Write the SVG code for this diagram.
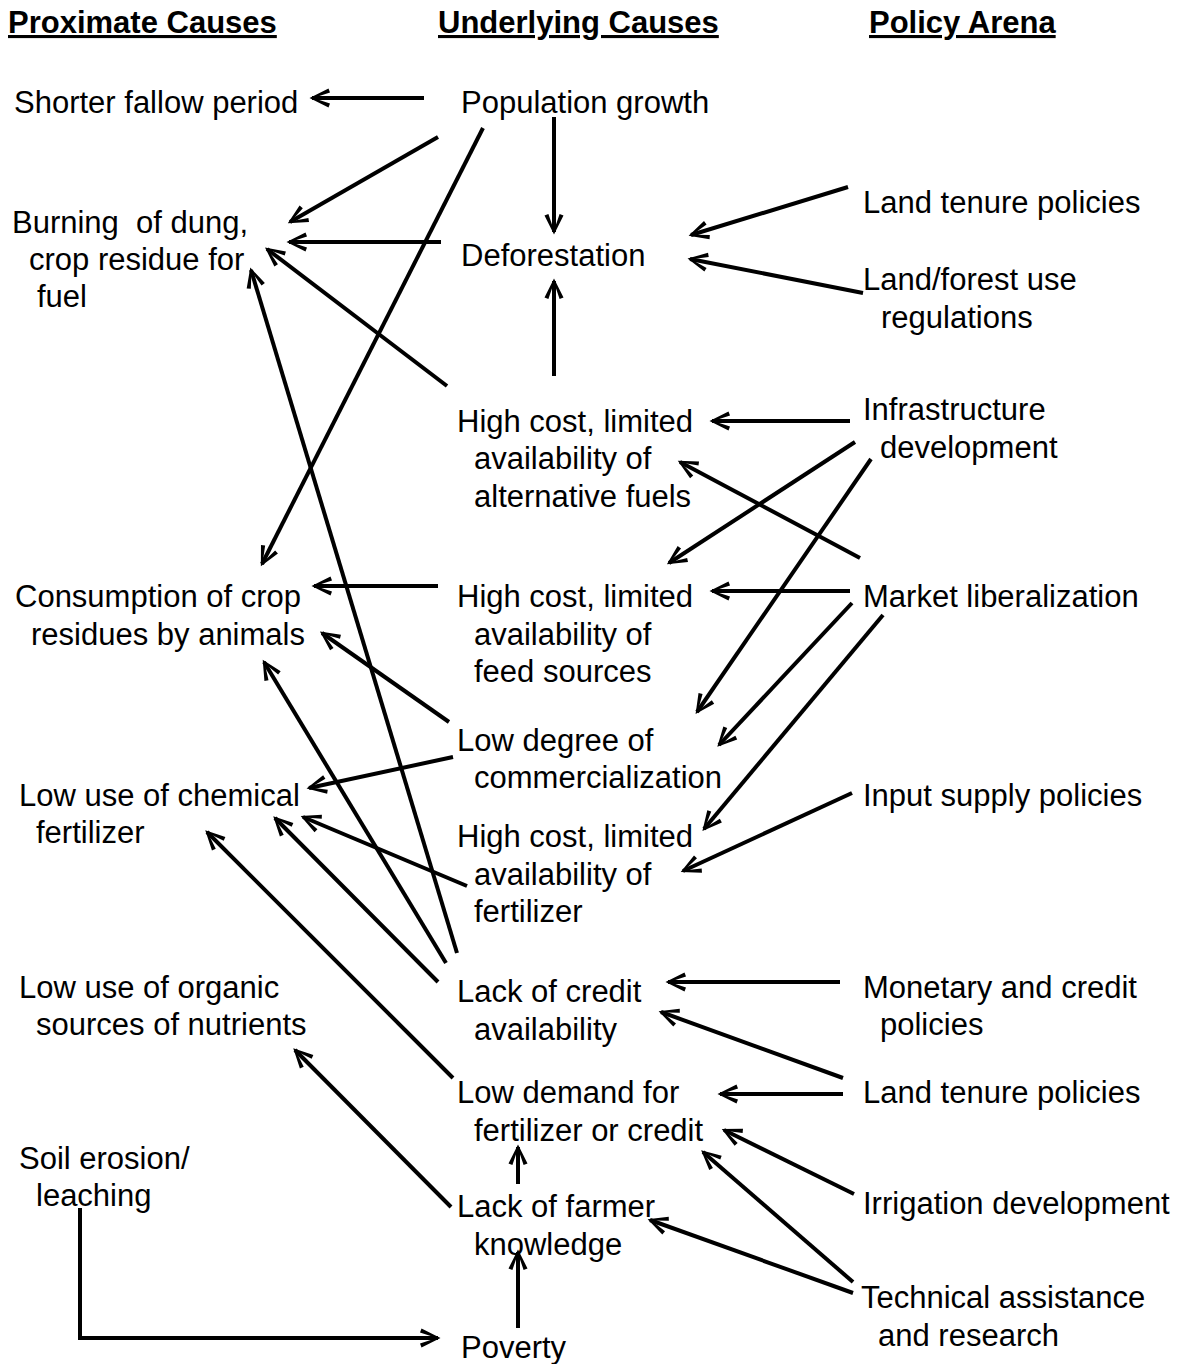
<svg xmlns="http://www.w3.org/2000/svg" width="1179" height="1364" viewBox="0 0 1179 1364">
<style>
text{font-family:"Liberation Sans",Arial,Helvetica,sans-serif;font-size:31px;fill:#000}
.title{font-weight:bold;text-decoration:underline}
.c line,.c polyline{fill:none;stroke:#000;stroke-width:4;marker-end:url(#ah)}
</style>
<defs>
<marker id="ah" markerUnits="userSpaceOnUse" viewBox="-22 -12 26 24" markerWidth="26" markerHeight="24" refX="0" refY="0" orient="auto" overflow="visible">
<path d="M2.5,0 L-16.5,-9.5 L-18,-5.6 L-5,-1.2 L-5,1.2 L-18,5.6 L-16.5,9.5 Z" fill="#000" stroke="none"/>
</marker>
</defs>
<rect width="1179" height="1364" fill="#fff"/>
<g id="titles">
<text class="title" x="8" y="33">Proximate Causes</text>
<text class="title" x="438" y="33">Underlying Causes</text>
<text class="title" x="869" y="33">Policy Arena</text>
</g>
<g id="n-shorter"><text x="14" y="113">Shorter fallow period</text></g>
<g id="n-burning"><text><tspan x="12" y="233">Burning&#160; of dung,</tspan><tspan x="29" y="270">crop residue for</tspan><tspan x="37" y="307">fuel</tspan></text></g>
<g id="n-consumption"><text><tspan x="15" y="607">Consumption of crop</tspan><tspan x="31" y="645">residues by animals</tspan></text></g>
<g id="n-chemical"><text><tspan x="19" y="806">Low use of chemical</tspan><tspan x="36" y="843">fertilizer</tspan></text></g>
<g id="n-organic"><text><tspan x="19" y="998">Low use of organic</tspan><tspan x="36" y="1035">sources of nutrients</tspan></text></g>
<g id="n-erosion"><text><tspan x="19" y="1169">Soil erosion/</tspan><tspan x="36" y="1206">leaching</tspan></text></g>
<g id="n-population"><text x="461" y="113">Population growth</text></g>
<g id="n-deforestation"><text x="461" y="266">Deforestation</text></g>
<g id="n-fuels"><text><tspan x="457" y="432">High cost, limited</tspan><tspan x="474" y="469">availability of</tspan><tspan x="474" y="507">alternative fuels</tspan></text></g>
<g id="n-feed"><text><tspan x="457" y="607">High cost, limited</tspan><tspan x="474" y="645">availability of</tspan><tspan x="474" y="682">feed sources</tspan></text></g>
<g id="n-commercial"><text><tspan x="457" y="751">Low degree of</tspan><tspan x="474" y="788">commercialization</tspan></text></g>
<g id="n-fertilizer"><text><tspan x="457" y="847">High cost, limited</tspan><tspan x="474" y="885">availability of</tspan><tspan x="474" y="922">fertilizer</tspan></text></g>
<g id="n-credit"><text><tspan x="457" y="1002">Lack of credit</tspan><tspan x="474" y="1040">availability</tspan></text></g>
<g id="n-demand"><text><tspan x="457" y="1103">Low demand for</tspan><tspan x="474" y="1141">fertilizer or credit</tspan></text></g>
<g id="n-knowledge"><text><tspan x="457" y="1217">Lack of farmer</tspan><tspan x="474" y="1255">knowledge</tspan></text></g>
<g id="n-poverty"><text x="461" y="1358">Poverty</text></g>
<g id="n-landtenure1"><text x="863" y="213">Land tenure policies</text></g>
<g id="n-landforest"><text><tspan x="863" y="290">Land/forest use</tspan><tspan x="881" y="328">regulations</tspan></text></g>
<g id="n-infrastructure"><text><tspan x="863" y="420">Infrastructure</tspan><tspan x="880" y="458">development</tspan></text></g>
<g id="n-market"><text x="863" y="607">Market liberalization</text></g>
<g id="n-input"><text x="863" y="806">Input supply policies</text></g>
<g id="n-monetary"><text><tspan x="863" y="998">Monetary and credit</tspan><tspan x="880" y="1035">policies</tspan></text></g>
<g id="n-landtenure2"><text x="863" y="1103">Land tenure policies</text></g>
<g id="n-irrigation"><text x="863" y="1214">Irrigation development</text></g>
<g id="n-technical"><text><tspan x="861" y="1308">Technical assistance</tspan><tspan x="878" y="1346">and research</tspan></text></g>
<g id="connectors" class="c">
<line x1="424" y1="98" x2="312" y2="98"/>
<line x1="438" y1="137" x2="290" y2="222"/>
<line x1="483" y1="128" x2="262" y2="564"/>
<line x1="441" y1="242" x2="289" y2="242"/>
<line x1="447" y1="386" x2="267" y2="249"/>
<line x1="457" y1="953" x2="251" y2="270"/>
<line x1="554" y1="117" x2="554" y2="232"/>
<line x1="554" y1="376" x2="554" y2="281"/>
<line x1="848" y1="187" x2="691" y2="235"/>
<line x1="863" y1="293" x2="690" y2="259"/>
<line x1="850" y1="421" x2="712" y2="421"/>
<line x1="860" y1="558" x2="680" y2="462"/>
<line x1="855" y1="442" x2="669" y2="563"/>
<line x1="871" y1="459" x2="697" y2="712"/>
<line x1="850" y1="591" x2="712" y2="591"/>
<line x1="852" y1="603" x2="719" y2="745"/>
<line x1="883" y1="615" x2="704" y2="829"/>
<line x1="852" y1="793" x2="683" y2="871"/>
<line x1="438" y1="586" x2="314" y2="586"/>
<line x1="449" y1="722" x2="322" y2="633"/>
<line x1="446" y1="963" x2="264" y2="662"/>
<line x1="438" y1="982" x2="275" y2="818"/>
<line x1="467" y1="886" x2="303" y2="817"/>
<line x1="453" y1="757" x2="309" y2="788"/>
<line x1="453" y1="1078" x2="207" y2="832"/>
<line x1="451" y1="1207" x2="295" y2="1050"/>
<line x1="518" y1="1184" x2="518" y2="1147"/>
<line x1="518" y1="1328" x2="518" y2="1252"/>
<polyline points="80,1208 80,1338 438,1338"/>
<line x1="840" y1="982" x2="668" y2="982"/>
<line x1="843" y1="1078" x2="661" y2="1012"/>
<line x1="843" y1="1094" x2="720" y2="1094"/>
<line x1="854" y1="1194" x2="724" y2="1130"/>
<line x1="853" y1="1282" x2="703" y2="1152"/>
<line x1="853" y1="1293" x2="650" y2="1220"/>
</g>
</svg>
